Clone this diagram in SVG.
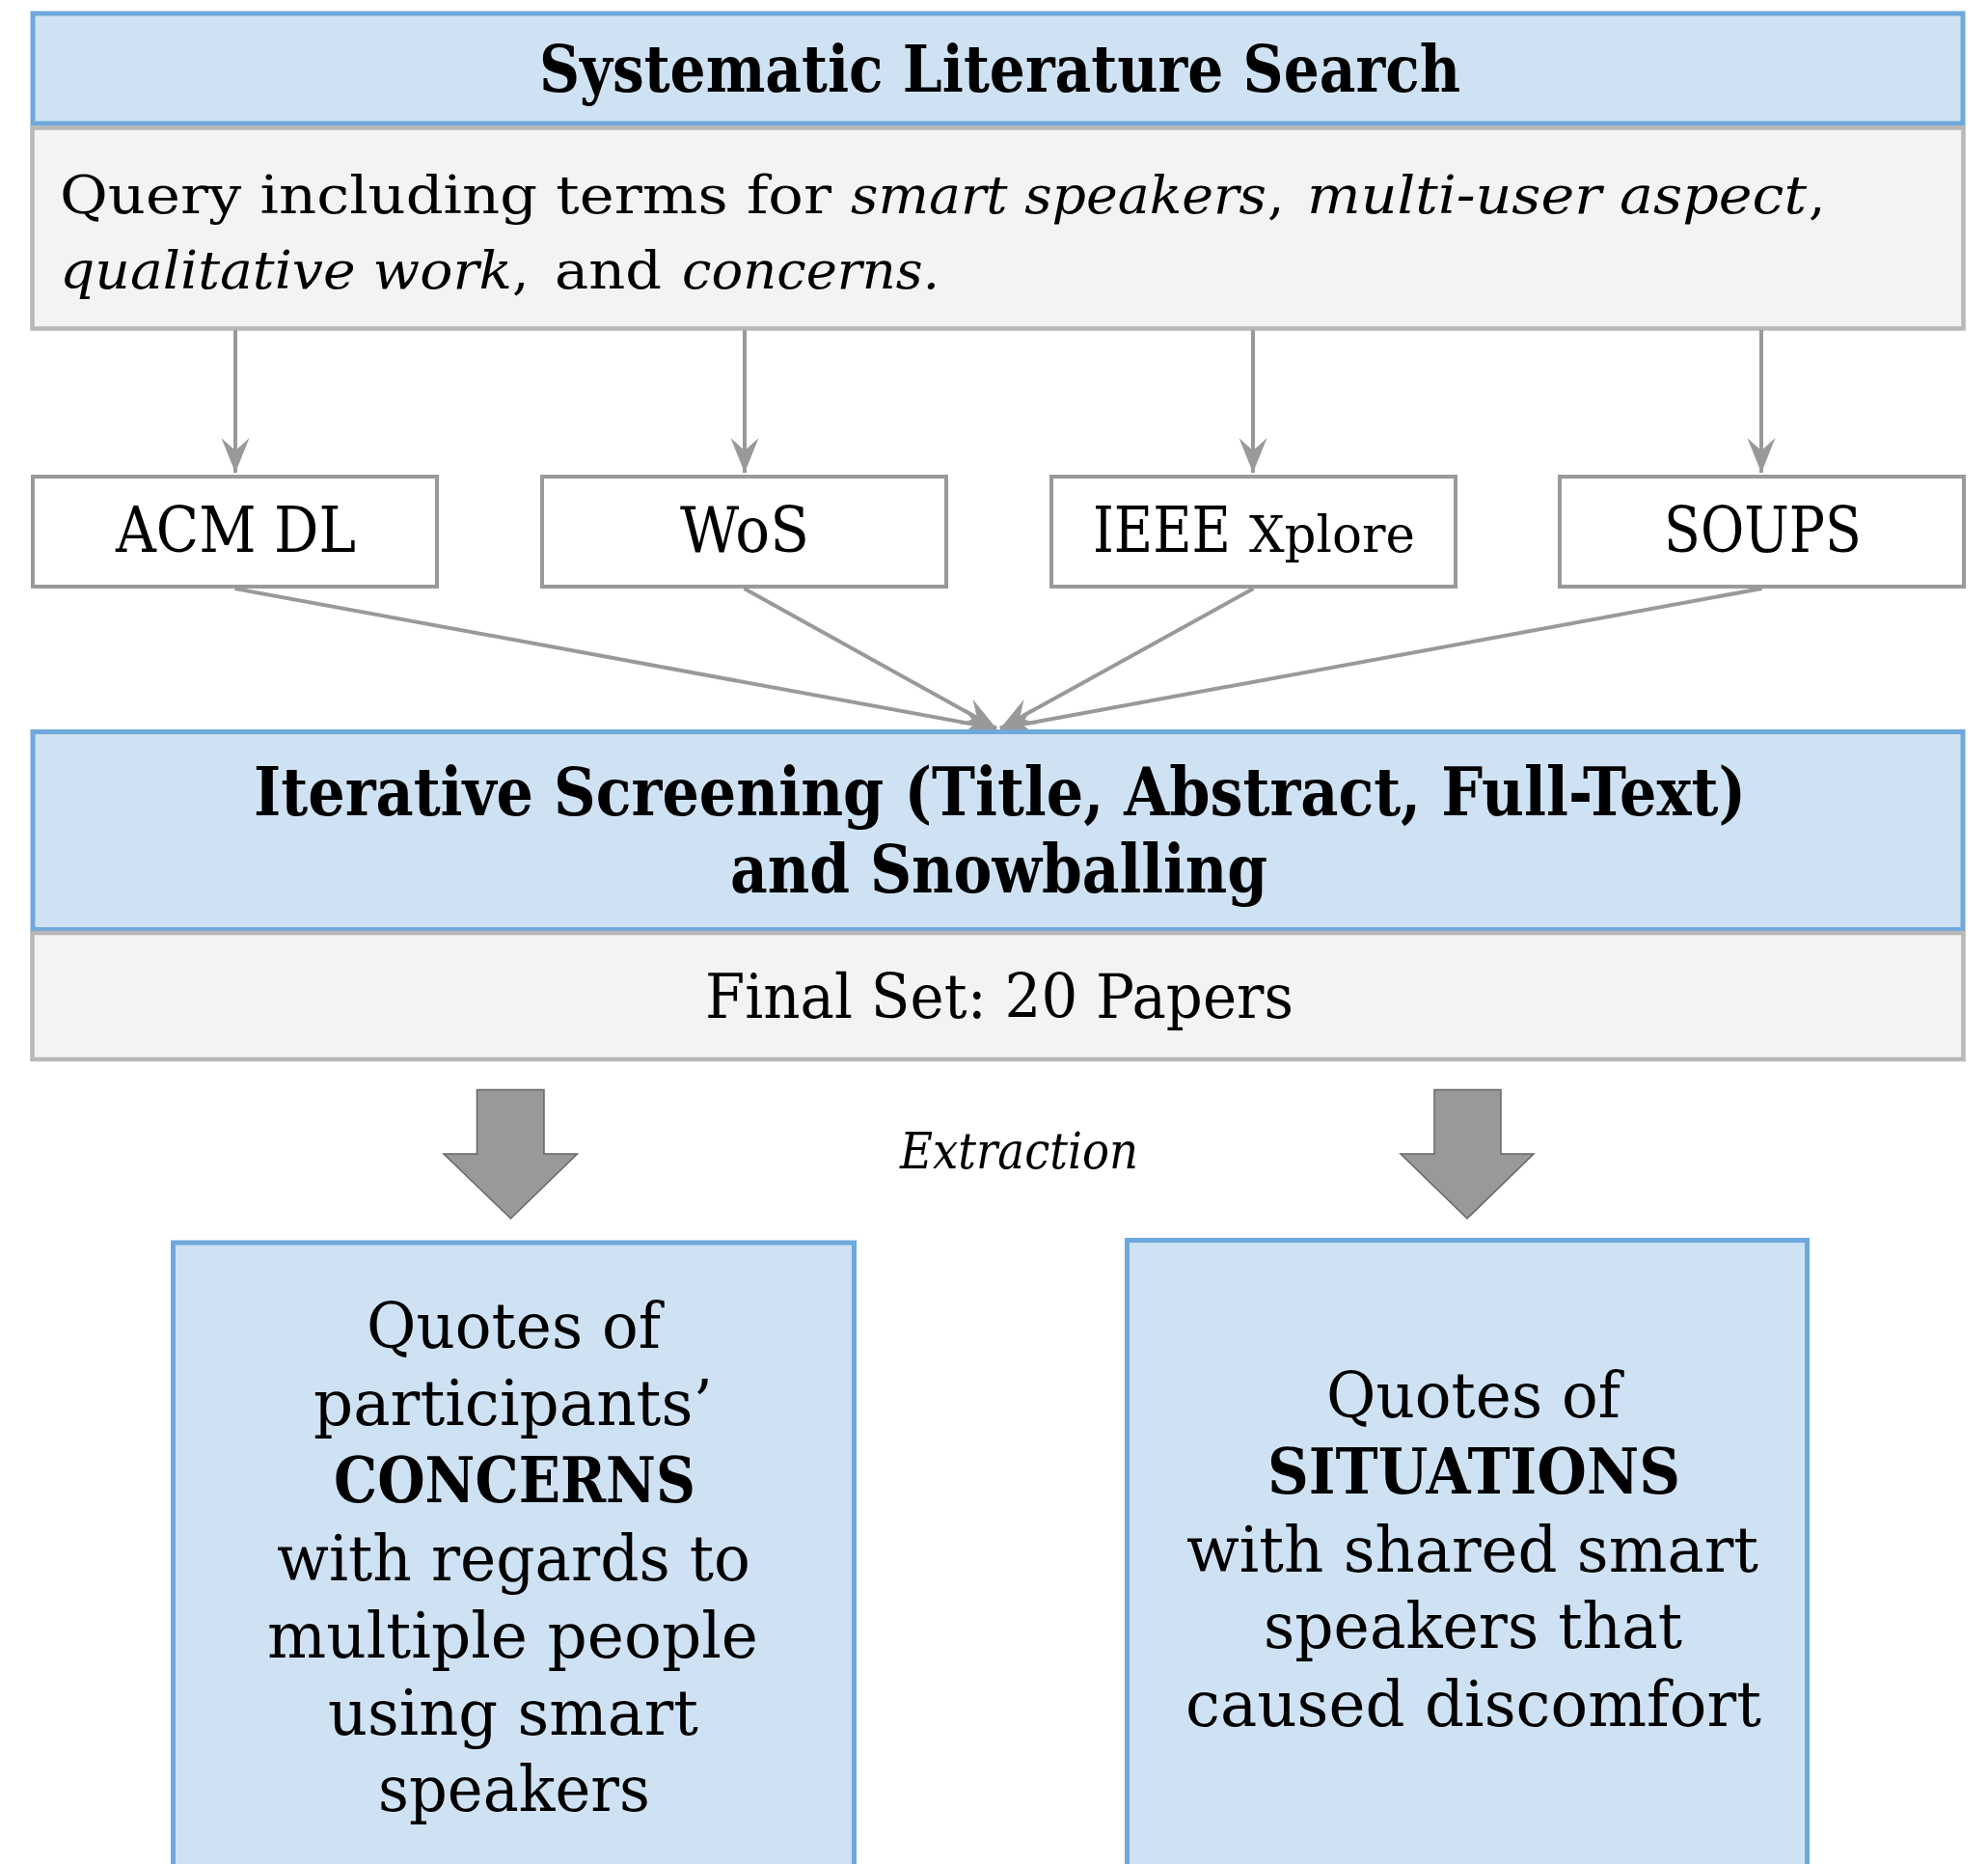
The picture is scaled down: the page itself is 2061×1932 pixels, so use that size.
<svg xmlns="http://www.w3.org/2000/svg" width="2061" height="1932" viewBox="0 0 2061 1932">
<defs>
<style>
.blue{fill:#cfe2f3;stroke:#6fa8dc;stroke-width:5}
.grey{fill:#f3f3f3;stroke:#b7b7b7;stroke-width:4.5}
.db{fill:#ffffff;stroke:#999999;stroke-width:4}
.conn{stroke:#999999;stroke-width:4;fill:none}
.blk{fill:#999999;stroke:#666666;stroke-width:1.5}
text{font-family:"DejaVu Serif","Liberation Serif",serif;fill:#000000}
.b{font-weight:bold}
.i{font-style:italic}
</style>
<marker id="ah" markerUnits="userSpaceOnUse" markerWidth="40" markerHeight="32" viewBox="-38 -16 40 32" refX="0" refY="0" orient="auto">
<path d="M0,0 L-36,-14.5 L-23,0 L-36,14.5 Z" fill="#999999"/>
</marker>
</defs>
<rect width="2061" height="1932" fill="#ffffff"/>

<g id="search">
<rect class="blue" x="34" y="14" width="2001" height="114"/>
<text class="b" x="559" y="95" font-size="68" textLength="955" lengthAdjust="spacingAndGlyphs">Systematic Literature Search</text>
</g>

<g id="query">
<rect class="grey" x="33.5" y="132.5" width="2002" height="208"/>
<text x="62" y="221" font-size="55" textLength="800" lengthAdjust="spacingAndGlyphs">Query including terms for</text>
<text class="i" x="882" y="221" font-size="55" textLength="431" lengthAdjust="spacingAndGlyphs">smart speakers</text>
<text x="1314" y="221" font-size="55">,</text>
<text class="i" x="1355" y="221" font-size="55" textLength="518" lengthAdjust="spacingAndGlyphs">multi-user aspect</text>
<text x="1875" y="221" font-size="55">,</text>
<text class="i" x="62" y="299" font-size="55" textLength="469" lengthAdjust="spacingAndGlyphs">qualitative work</text>
<text x="531" y="299" font-size="55">,</text>
<text x="575" y="299" font-size="55" textLength="111" lengthAdjust="spacingAndGlyphs">and</text>
<text class="i" x="707" y="299" font-size="55" textLength="267" lengthAdjust="spacingAndGlyphs">concerns.</text>
</g>

<g id="acm">
<rect class="db" x="34" y="494" width="419" height="114"/>
<text x="120" y="572" font-size="66" textLength="249" lengthAdjust="spacingAndGlyphs">ACM DL</text>
</g>
<g id="wos">
<rect class="db" x="562" y="494" width="419" height="114"/>
<text x="705" y="572" font-size="66" textLength="134" lengthAdjust="spacingAndGlyphs">WoS</text>
</g>
<g id="ieee">
<rect class="db" x="1090" y="494" width="419" height="114"/>
<text x="1133" y="572" font-size="66" textLength="143" lengthAdjust="spacingAndGlyphs">IEEE</text>
<text x="1295" y="572" font-size="52" textLength="172" lengthAdjust="spacingAndGlyphs">Xplore</text>
</g>
<g id="soups">
<rect class="db" x="1617" y="494" width="419" height="114"/>
<text x="1725" y="572" font-size="66" textLength="205" lengthAdjust="spacingAndGlyphs">SOUPS</text>
</g>

<g id="connectors">
<line class="conn" x1="244" y1="342" x2="244" y2="490" marker-end="url(#ah)"/>
<line class="conn" x1="772" y1="342" x2="772" y2="490" marker-end="url(#ah)"/>
<line class="conn" x1="1299" y1="342" x2="1299" y2="490" marker-end="url(#ah)"/>
<line class="conn" x1="1826" y1="342" x2="1826" y2="490" marker-end="url(#ah)"/>
<line class="conn" x1="243.5" y1="610" x2="1033" y2="755" marker-end="url(#ah)"/>
<line class="conn" x1="771.5" y1="610" x2="1033" y2="755" marker-end="url(#ah)"/>
<line class="conn" x1="1299.5" y1="610" x2="1037" y2="755" marker-end="url(#ah)"/>
<line class="conn" x1="1826.5" y1="610" x2="1037" y2="755" marker-end="url(#ah)"/>
<polygon class="blk" points="494.5,1129.5 564,1129.5 564,1196 598.5,1196 529.5,1263 460,1196 494.5,1196"/>
<polygon class="blk" points="1487,1129.5 1556,1129.5 1556,1196 1590,1196 1521,1263 1452,1196 1487,1196"/>
</g>

<g id="screening">
<rect class="blue" x="34" y="758.5" width="2001" height="205"/>
<text class="b" x="263" y="845" font-size="69" textLength="1547" lengthAdjust="spacingAndGlyphs">Iterative Screening (Title, Abstract, Full-Text)</text>
<text class="b" x="757" y="925" font-size="69" textLength="557" lengthAdjust="spacingAndGlyphs">and Snowballing</text>
</g>

<g id="finalset">
<rect class="grey" x="33.5" y="967" width="2002" height="131"/>
<text x="731" y="1055" font-size="63" textLength="610" lengthAdjust="spacingAndGlyphs">Final Set: 20 Papers</text>
</g>

<g id="extraction-label">
<text class="i" x="933" y="1211" font-size="52" textLength="247" lengthAdjust="spacingAndGlyphs">Extraction</text>
</g>

<g id="concerns">
<rect class="blue" x="179.5" y="1288" width="706" height="700"/>
<text x="380" y="1397" font-size="66" textLength="305" lengthAdjust="spacingAndGlyphs">Quotes of</text>
<text x="325" y="1477" font-size="66" textLength="414" lengthAdjust="spacingAndGlyphs">participants’</text>
<text class="b" x="346" y="1557" font-size="65" textLength="375" lengthAdjust="spacingAndGlyphs">CONCERNS</text>
<text x="287" y="1638" font-size="66" textLength="491" lengthAdjust="spacingAndGlyphs">with regards to</text>
<text x="277" y="1718" font-size="66" textLength="509" lengthAdjust="spacingAndGlyphs">multiple people</text>
<text x="340" y="1798" font-size="66" textLength="384" lengthAdjust="spacingAndGlyphs">using smart</text>
<text x="392" y="1877" font-size="66" textLength="282" lengthAdjust="spacingAndGlyphs">speakers</text>
</g>

<g id="situations">
<rect class="blue" x="1168.5" y="1285.5" width="705" height="700"/>
<text x="1375" y="1469" font-size="66" textLength="305" lengthAdjust="spacingAndGlyphs">Quotes of</text>
<text class="b" x="1314" y="1548" font-size="65" textLength="428" lengthAdjust="spacingAndGlyphs">SITUATIONS</text>
<text x="1230" y="1629" font-size="66" textLength="593" lengthAdjust="spacingAndGlyphs">with shared smart</text>
<text x="1310" y="1708" font-size="66" textLength="434" lengthAdjust="spacingAndGlyphs">speakers that</text>
<text x="1229" y="1789" font-size="66" textLength="597" lengthAdjust="spacingAndGlyphs">caused discomfort</text>
</g>
</svg>
